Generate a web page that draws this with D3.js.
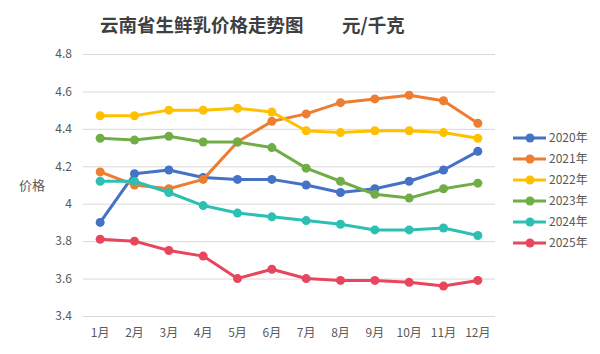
<!DOCTYPE html>
<html>
<head>
<meta charset="utf-8">
<script src="https://cdn.jsdelivr.net/npm/d3@7"></script>
<style>
	body { margin: 0; background: #fff; }
	text { font-family: "Noto Sans CJK SC", "Noto Sans", sans-serif; }
</style>
</head>
<body>
<svg id="chart" width="600" height="354"></svg>
<script>
const months = ['1月','2月','3月','4月','5月','6月','7月','8月','9月','10月','11月','12月'];
const yTicks = [3.4, 3.6, 3.8, 4, 4.2, 4.4, 4.6, 4.8];
const seriesNames = ['2020年','2021年','2022年','2023年','2024年','2025年'];
const v2020 = [3.90, 4.16, 4.18, 4.14, 4.13, 4.13, 4.10, 4.06, 4.08, 4.12, 4.18, 4.28];
const v2021 = [4.17, 4.10, 4.08, 4.13, 4.33, 4.44, 4.48, 4.54, 4.56, 4.58, 4.55, 4.43];
const v2022 = [4.47, 4.47, 4.50, 4.50, 4.51, 4.49, 4.39, 4.38, 4.39, 4.39, 4.38, 4.35];
const v2023 = [4.35, 4.34, 4.36, 4.33, 4.33, 4.30, 4.19, 4.12, 4.05, 4.03, 4.08, 4.11];
const v2024 = [4.12, 4.12, 4.06, 3.99, 3.95, 3.93, 3.91, 3.89, 3.86, 3.86, 3.87, 3.83];
const v2025 = [3.81, 3.80, 3.75, 3.72, 3.60, 3.65, 3.60, 3.59, 3.59, 3.58, 3.56, 3.59];

const colors = ['#4472C4', '#ED7D31', '#FFC000', '#70AD47', '#2CC0B2', '#E8465C'];
const series = [v2020, v2021, v2022, v2023, v2024, v2025]
	.map((values, i) => ({name: seriesNames[i], values: values, color: colors[i]}));

const svg = d3.select('#chart');
const plot = {left: 83, right: 495, top: 54, bottom: 316};

const x = d3.scaleBand().domain(months).range([plot.left, plot.right]);
const y = d3.scaleLinear().domain([3.4, 4.8]).range([plot.bottom, plot.top]);

// title
svg.append('text')
	.attr('x', 100).attr('y', 32)
	.attr('font-size', 18.5).attr('font-weight', 700).attr('fill', '#404040')
	.text('云南省生鲜乳价格走势图');
svg.append('text')
	.attr('x', 342).attr('y', 32)
	.attr('font-size', 18.5).attr('font-weight', 700).attr('fill', '#404040')
	.text('元/千克');

// y grid + labels
const yAxis = svg.append('g')
	.attr('transform', `translate(${plot.left},0)`)
	.call(d3.axisLeft(y).tickValues(yTicks).tickSize(-(plot.right - plot.left)).tickPadding(11)
		.tickFormat(d => d3.format('')(+d.toFixed(1))));
yAxis.select('.domain').remove();
yAxis.selectAll('line').attr('stroke', '#d9d9d9').attr('stroke-width', 1);
yAxis.selectAll('text').attr('font-size', 12).attr('fill', '#595959')
	.attr('font-family', '"Noto Sans", sans-serif');

// x labels
const xAxis = svg.append('g')
	.attr('transform', `translate(0,${plot.bottom})`)
	.call(d3.axisBottom(x).tickSize(0).tickPadding(12));
xAxis.select('.domain').remove();
xAxis.selectAll('text').attr('font-size', 12).attr('fill', '#595959');

svg.append('text')
	.attr('x', 32).attr('y', 190).attr('text-anchor', 'middle')
	.attr('font-size', 13).attr('fill', '#595959')
	.text('价格');

const cx = (d, i) => x(months[i]) + x.bandwidth() / 2;
const line = d3.line().x(cx).y(d => y(d));

const g = svg.append('g');
series.forEach(s => {
	g.append('path')
		.attr('d', line(s.values))
		.attr('fill', 'none')
		.attr('stroke', s.color)
		.attr('stroke-width', 3)
		.attr('stroke-linejoin', 'round');
	g.selectAll(null)
		.data(s.values)
		.join('circle')
		.attr('cx', cx)
		.attr('cy', d => y(d))
		.attr('r', 4.5)
		.attr('fill', s.color);
});

// legend
const legend = svg.append('g');
series.forEach((s, i) => {
	const ly = 138 + i * 21;
	legend.append('line')
		.attr('x1', 513).attr('x2', 546).attr('y1', ly).attr('y2', ly)
		.attr('stroke', s.color).attr('stroke-width', 3);
	legend.append('circle')
		.attr('cx', 530).attr('cy', ly).attr('r', 4.5).attr('fill', s.color);
	legend.append('text')
		.attr('x', 549).attr('y', ly).attr('dy', '0.35em')
		.attr('font-size', 12).attr('fill', '#595959')
		.text(s.name);
});
</script>
</body>
</html>
